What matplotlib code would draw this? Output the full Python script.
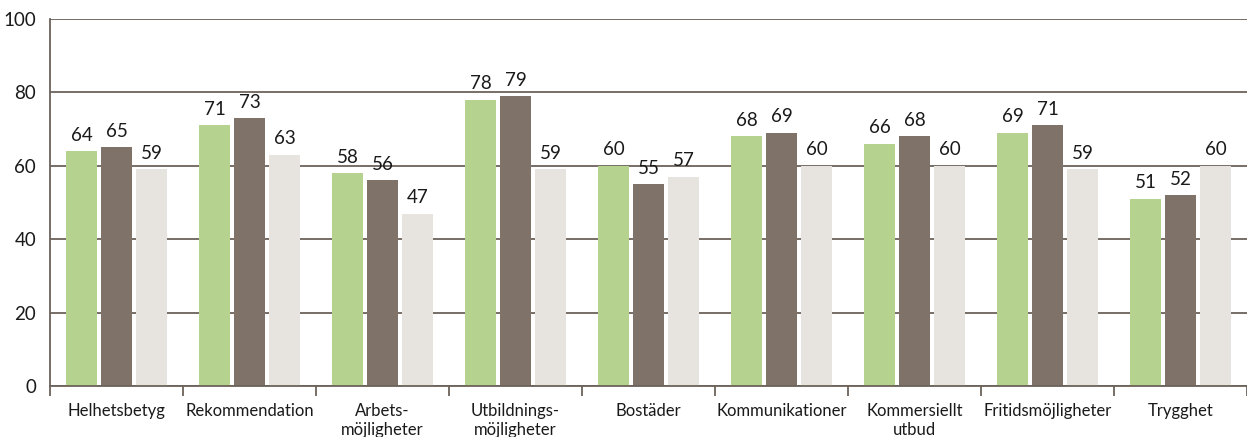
import matplotlib
matplotlib.use("Agg")
import matplotlib.pyplot as plt
import numpy as np

categories = ["Helhetsbetyg", "Rekommendation", "Arbets-\nmöjligheter", "Utbildnings-\nmöjligheter",
              "Bostäder", "Kommunikationer", "Kommersiellt\nutbud", "Fritidsmöjligheter", "Trygghet"]
series_1 = [64, 71, 58, 78, 60, 68, 66, 69, 51]
series_2 = [65, 73, 56, 79, 55, 69, 68, 71, 52]
series_3 = [59, 63, 47, 59, 57, 60, 60, 59, 60]
colors = ["#b5d38e", "#7f7369", "#e7e4df"]
yticks = [0, 20, 40, 60, 80, 100]

plt.rcParams['font.family'] = ['Lato', 'DejaVu Sans']

fig = plt.figure(figsize=(12.47, 4.37), dpi=100)
ax = fig.add_axes([50/1247, 1-386/437, 1-50/1247, (386-19)/437])

x = np.arange(len(categories))
w = 0.233
step = 0.263
for i, (vals, c) in enumerate(zip([series_1, series_2, series_3], colors)):
    pos = x + (i - 1) * step
    ax.bar(pos, vals, width=w, color=c, zorder=2)
    for p, v in zip(pos, vals):
        ax.text(p, v + 2, str(v), ha='center', va='bottom', fontsize=13.5, color='#1a1a1a')

ax.set_xlim(-0.5, len(categories) - 0.5)
ax.set_ylim(0, 100)
ax.set_yticks(yticks)
ax.set_yticklabels([str(t) for t in yticks], fontsize=13.5, color='#1a1a1a')
ax.yaxis.grid(True, color='#6b625a', linewidth=1.3, zorder=0)
ax.set_axisbelow(True)
ax.tick_params(axis='y', length=0, pad=10)

ax.set_xticks(x)
ax.set_xticklabels(categories, fontsize=12, color='#1a1a1a', linespacing=1.25)
ax.set_xticks(np.arange(-0.5, len(categories) + 0.5, 1.0), minor=True)
ax.tick_params(axis='x', which='major', length=0, pad=12)
ax.tick_params(axis='x', which='minor', length=7, color='#6b625a', width=1.3)

for s in ['top', 'right']:
    ax.spines[s].set_visible(False)
ax.spines['left'].set_color('#6b625a')
ax.spines['left'].set_linewidth(1.3)
ax.spines['bottom'].set_color('#6b625a')
ax.spines['bottom'].set_linewidth(1.3)

fig.savefig("out.png", dpi=100)
